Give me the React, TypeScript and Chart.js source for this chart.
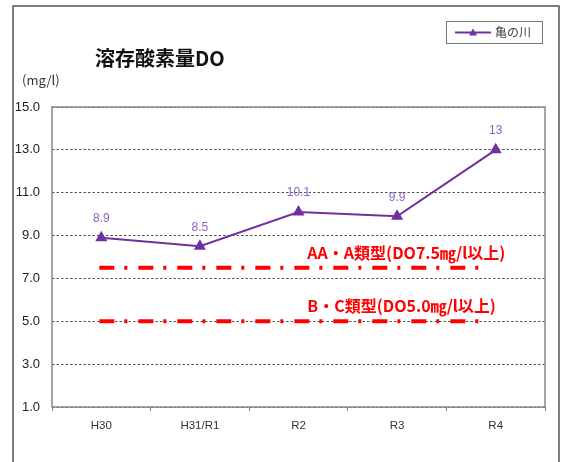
import React, { useEffect, useRef } from 'react';
import { Chart, registerables } from 'chart.js';

Chart.register(...registerables);

const chartTitle = '溶存酸素量DO';
const unitLabel = '(mg/l)';
const categories = ['H30', 'H31/R1', 'R2', 'R3', 'R4'];
const seriesName = '亀の川';
const doValues = [8.9, 8.5, 10.1, 9.9, 13];
const valueLabels = ['8.9', '8.5', '10.1', '9.9', '13'];
const standardValues = [7.5, 5.0];
const standardLabels = ['AA・A類型(DO7.5㎎/l以上)', 'B・C類型(DO5.0㎎/l以上)'];
const standardSpan = [0.48, 4.4];
const yMin = 1;
const yMax = 15;
const yStep = 2;

const PURPLE = '#7030a0';
const LABEL_PURPLE = '#8a63c0';
const RED = '#ff0000';
const JP = '"Noto Sans CJK JP", "Noto Sans", sans-serif';
const SANS = '"Liberation Sans", Arial, sans-serif';

const decorPlugin = {
  id: 'decor',
  beforeDraw(chart: any) {
    const ctx = chart.ctx;
    ctx.save();
    ctx.fillStyle = '#ffffff';
    ctx.fillRect(0, 0, chart.width, chart.height);
    ctx.strokeStyle = '#555555';
    ctx.lineWidth = 1.5;
    ctx.strokeRect(13, 6, 546, 470);
    ctx.fillStyle = '#111111';
    ctx.font = `bold 20px ${JP}`;
    ctx.textAlign = 'left';
    ctx.textBaseline = 'middle';
    ctx.fillText(chartTitle, 95, 58);
    ctx.fillStyle = '#333333';
    ctx.font = `13px ${JP}`;
    ctx.fillText(unitLabel, 22, 80);
    ctx.restore();
  },
  beforeDatasetsDraw(chart: any) {
    const ctx = chart.ctx;
    const a = chart.chartArea;
    ctx.save();
    ctx.strokeStyle = '#888888';
    ctx.lineWidth = 1.5;
    ctx.strokeRect(a.left, a.top, a.right - a.left, a.bottom - a.top);
    ctx.restore();
  },
  afterDraw(chart: any) {
    const ctx = chart.ctx;
    const xs = chart.scales.x2;
    const ys = chart.scales.y;
    ctx.save();
    const meta = chart.getDatasetMeta(0);
    ctx.fillStyle = LABEL_PURPLE;
    ctx.font = `12px ${SANS}`;
    ctx.textAlign = 'center';
    ctx.textBaseline = 'middle';
    meta.data.forEach((pt: any, i: number) => {
      ctx.fillText(valueLabels[i], pt.x, pt.y - 19);
    });
    ctx.fillStyle = RED;
    ctx.font = `bold 16px ${JP}`;
    ctx.textAlign = 'left';
    standardValues.forEach((v, i) => {
      ctx.fillText(standardLabels[i], xs.getPixelForValue(2.59), ys.getPixelForValue(v) - 15);
    });
    const lx = 446, ly = 21, lw = 96, lh = 22;
    ctx.strokeStyle = '#777777';
    ctx.lineWidth = 1;
    ctx.strokeRect(lx + 0.5, ly + 0.5, lw, lh);
    const cy = ly + lh / 2 + 0.5;
    ctx.strokeStyle = PURPLE;
    ctx.lineWidth = 2;
    ctx.beginPath();
    ctx.moveTo(455, cy);
    ctx.lineTo(491, cy);
    ctx.stroke();
    ctx.fillStyle = PURPLE;
    ctx.beginPath();
    ctx.moveTo(473, cy - 4);
    ctx.lineTo(477, cy + 3);
    ctx.lineTo(469, cy + 3);
    ctx.closePath();
    ctx.fill();
    ctx.fillStyle = '#444444';
    ctx.font = `12px ${JP}`;
    ctx.textAlign = 'left';
    ctx.textBaseline = 'middle';
    ctx.fillText(chart.data.datasets[0].label, 495, cy);
    ctx.restore();
  },
};

export default function App() {
  const ref = useRef<HTMLCanvasElement | null>(null);
  useEffect(() => {
    if (!ref.current) return;
    const standardDatasets = standardValues.map((v, i) => ({
      type: 'line' as const,
      label: standardLabels[i],
      xAxisID: 'x2',
      data: [
        { x: standardSpan[0], y: v },
        { x: standardSpan[1], y: v },
      ],
      borderColor: RED,
      borderWidth: 4,
      borderDash: [15, 10, 3, 11],
      pointRadius: 0,
      fill: false,
    }));
    const chart = new Chart(ref.current, {
      type: 'line',
      data: {
        labels: categories,
        datasets: [
          {
            label: seriesName,
            data: doValues,
            xAxisID: 'x',
            borderColor: PURPLE,
            backgroundColor: PURPLE,
            borderWidth: 2,
            pointStyle: 'triangle',
            pointRadius: 5,
            pointBackgroundColor: PURPLE,
            pointBorderColor: PURPLE,
            tension: 0,
            fill: false,
          } as any,
          ...standardDatasets,
        ],
      },
      options: {
        animation: false,
        responsive: false,
        devicePixelRatio: 1,
        layout: { padding: { left: 12, right: 19, top: 107, bottom: 10 } },
        plugins: {
          legend: { display: false },
          title: { display: false },
          tooltip: { enabled: false },
        },
        scales: {
          x: {
            type: 'category',
            offset: true,
            grid: {
              display: true,
              offset: true,
              drawOnChartArea: false,
              drawTicks: true,
              tickLength: 4,
              color: '#888888',
            },
            border: { display: false },
            ticks: {
              color: '#333333',
              font: { family: SANS, size: 11.5 },
              padding: 8,
              maxRotation: 0,
              autoSkip: false,
            },
            afterFit: (s: any) => {
              s.height = 45;
            },
          },
          x2: {
            type: 'linear',
            min: 0,
            max: 5,
            display: false,
          },
          y: {
            type: 'linear',
            min: yMin,
            max: yMax,
            grid: {
              color: '#555555',
              lineWidth: 1,
              drawTicks: false,
            },
            border: { display: false, dash: [2.5, 2] },
            ticks: {
              stepSize: yStep,
              color: '#222222',
              font: { family: SANS, size: 13 },
              padding: 12,
              autoSkip: false,
              callback: (v: any) => Number(v).toFixed(1),
            },
            afterFit: (s: any) => {
              s.width = 40;
            },
          },
        },
      } as any,
      plugins: [decorPlugin],
    });
    return () => chart.destroy();
  }, []);
  return (
    <div style={{ position: 'fixed', left: 0, top: 0, width: 564, height: 462, background: '#fff' }}>
      <canvas ref={ref} width={564} height={462} style={{ width: 564, height: 462, display: 'block' }} />
    </div>
  );
}
